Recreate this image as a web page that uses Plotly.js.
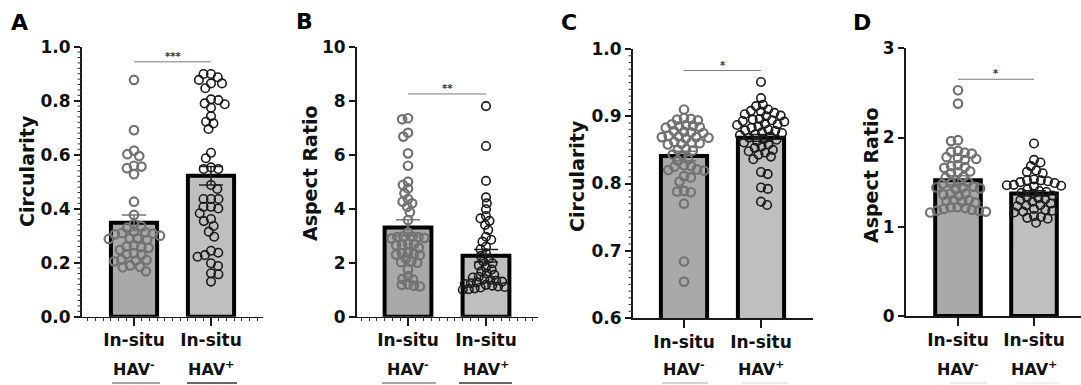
<!DOCTYPE html>
<html><head><meta charset="utf-8">
<script src="https://cdn.plot.ly/plotly-3.0.1.min.js"></script>
<style>html,body{margin:0;padding:0;background:#fff;overflow:hidden}#chart{width:1081px;height:385px}</style>
</head><body><div id="chart"></div>
<script>
// ---------- data ----------
const categories = ['In-situ', 'In-situ'];
const groupLabels = ['HAV<sup>-</sup>', 'HAV<sup>+</sup>'];
const panelLetters = ['A', 'B', 'C', 'D'];
const yTitles = ['Circularity', 'Aspect Ratio', 'Circularity', 'Aspect Ratio'];
const significance = ['***', '**', '*', '*'];
const sigLevel = [0.944, 8.25, 0.968, 2.653];

const circA_neg = [0.877, 0.691, 0.615, 0.602, 0.595, 0.559, 0.556, 0.550, 0.528, 0.426, 0.377, 0.343, 0.335, 0.330, 0.315, 0.312, 0.310, 0.308, 0.305, 0.300, 0.290, 0.290, 0.288, 0.285, 0.265, 0.260, 0.258, 0.255, 0.247, 0.235, 0.232, 0.230, 0.212, 0.210, 0.208, 0.205, 0.190, 0.185, 0.183, 0.168];
const circA_pos = [0.899, 0.899, 0.887, 0.877, 0.864, 0.864, 0.846, 0.805, 0.802, 0.790, 0.787, 0.774, 0.743, 0.722, 0.716, 0.695, 0.607, 0.587, 0.553, 0.547, 0.547, 0.488, 0.473, 0.436, 0.436, 0.436, 0.407, 0.407, 0.401, 0.383, 0.362, 0.354, 0.336, 0.315, 0.296, 0.244, 0.237, 0.228, 0.222, 0.198, 0.188, 0.161, 0.157, 0.130];
const meanA = [0.348, 0.522];
const semA = [0.029, 0.034];

const arB_neg = [7.35, 7.31, 6.81, 6.67, 6.05, 5.59, 5.00, 4.88, 4.75, 4.57, 4.36, 4.26, 4.20, 4.07, 3.87, 3.58, 3.12, 2.98, 2.97, 2.95, 2.95, 2.92, 2.90, 2.70, 2.68, 2.66, 2.65, 2.55, 2.36, 2.35, 2.33, 2.30, 2.28, 2.15, 2.05, 2.02, 2.00, 1.75, 1.50, 1.40, 1.38, 1.20, 1.18, 1.15, 1.12];
const arB_pos = [7.80, 6.32, 5.03, 4.42, 4.20, 3.98, 3.73, 3.64, 3.55, 3.40, 3.21, 2.96, 2.85, 2.78, 2.59, 2.50, 2.35, 2.25, 2.15, 2.05, 1.98, 1.90, 1.82, 1.75, 1.68, 1.60, 1.55, 1.48, 1.45, 1.40, 1.36, 1.33, 1.30, 1.27, 1.24, 1.21, 1.18, 1.15, 1.12, 1.10, 1.08, 1.05, 1.02, 1.00];
const meanB = [3.30, 2.26];
const semB = [0.29, 0.23];

const circC_neg = [0.910, 0.897, 0.896, 0.895, 0.894, 0.888, 0.887, 0.886, 0.885, 0.884, 0.883, 0.878, 0.877, 0.876, 0.875, 0.871, 0.870, 0.869, 0.869, 0.868, 0.867, 0.862, 0.861, 0.860, 0.859, 0.858, 0.851, 0.850, 0.849, 0.843, 0.842, 0.836, 0.834, 0.827, 0.826, 0.825, 0.821, 0.820, 0.819, 0.811, 0.809, 0.803, 0.789, 0.788, 0.787, 0.770, 0.684, 0.654];
const circC_pos = [0.951, 0.927, 0.917, 0.915, 0.910, 0.908, 0.907, 0.905, 0.903, 0.901, 0.900, 0.896, 0.895, 0.894, 0.893, 0.892, 0.889, 0.888, 0.887, 0.885, 0.883, 0.880, 0.879, 0.878, 0.876, 0.875, 0.873, 0.872, 0.870, 0.868, 0.866, 0.865, 0.863, 0.861, 0.858, 0.855, 0.853, 0.850, 0.848, 0.846, 0.843, 0.840, 0.836, 0.817, 0.814, 0.794, 0.792, 0.773, 0.768];
const meanC = [0.841, 0.868];
const semC = [0.007, 0.005];

const arD_neg = [2.53, 2.38, 1.97, 1.96, 1.85, 1.84, 1.83, 1.82, 1.78, 1.77, 1.76, 1.75, 1.69, 1.68, 1.67, 1.66, 1.62, 1.61, 1.60, 1.56, 1.55, 1.50, 1.50, 1.49, 1.48, 1.45, 1.44, 1.44, 1.43, 1.42, 1.37, 1.37, 1.36, 1.35, 1.30, 1.30, 1.29, 1.28, 1.27, 1.22, 1.22, 1.21, 1.20, 1.19, 1.18, 1.18, 1.17, 1.16];
const arD_pos = [1.933, 1.75, 1.72, 1.68, 1.63, 1.615, 1.60, 1.53, 1.52, 1.52, 1.51, 1.50, 1.49, 1.47, 1.465, 1.46, 1.45, 1.42, 1.40, 1.39, 1.38, 1.37, 1.35, 1.33, 1.32, 1.31, 1.30, 1.28, 1.26, 1.245, 1.24, 1.23, 1.20, 1.19, 1.18, 1.17, 1.16, 1.12, 1.11, 1.10, 1.09, 1.045];
const meanD = [1.522, 1.374];
const semD = [0.05, 0.03];

// ---------- layout config (pixel geometry, styles) ----------
const W = 1081, H = 385;
const panels = [
  {groups: [circA_neg, circA_pos], mean: meanA, sem: semA, x0: 82, x1: 263, c0: 134, c1: 211, yTop: 46.7, yBot: 316.7, yRange: [0, 1], dtick: 0.2, minorN: 10, fmt: '.1f', xMinor: true, swarmD: 7.5,
   letter: [19, 22], title: [27, 171], under: [[112, 160, '#8a8a8a'], [187, 237, '#333333']]},
  {groups: [arB_neg, arB_pos], mean: meanB, sem: semB, x0: 357, x1: 538, c0: 408, c1: 486, yTop: 46.7, yBot: 316.7, yRange: [0, 10], dtick: 2, minorN: 0, fmt: '', xMinor: true, swarmD: 6,
   letter: [304, 21], title: [310, 173], under: [[382, 436, '#8a8a8a'], [459, 512, '#333333']]},
  {groups: [circC_neg, circC_pos], mean: meanC, sem: semC, x0: 633, x1: 813, c0: 684, c1: 761, yTop: 49, yBot: 318, yRange: [0.6, 1.0], dtick: 0.1, minorN: 10, fmt: '.1f', xMinor: false, swarmD: 7,
   letter: [569, 22], title: [577, 176], under: [[662, 708, '#c8c8c8'], [742, 788, '#e2e2e2']]},
  {groups: [arD_neg, arD_pos], mean: meanD, sem: semD, x0: 906, x1: 1081, c0: 958, c1: 1034, yTop: 48.3, yBot: 316, yRange: [0, 3], dtick: 1, minorN: 0, fmt: '', xMinor: false, swarmD: 7,
   letter: [862, 22], title: [871, 175], under: [[950, 987, '#e2e2e2'], [1017, 1060, '#ececec']]}
];
const barFill = ['#a9a9a9', '#bfbfbf'];
const ptColor = ['#727272', '#1a1a1a'];
const ptWidth = [2.2, 1.6];
const errColor = ['#777777', '#222222'];
const axisColor = '#1a1a1a';
const FONT = 'DejaVu Sans, Arial, sans-serif';

function swarmOffsets(vals, pxPerVal, D) {
  const order = vals.map((v, i) => i).sort((a, b) => vals[b] - vals[a]);
  const placed = [];
  const out = new Array(vals.length).fill(0);
  let flip = false;
  for (const i of order) {
    const y = vals[i] * pxPerVal;
    const near = placed.filter(p => Math.abs(p.y - y) < D);
    const cands = [0];
    near.forEach(p => { const w = Math.sqrt(D * D - (p.y - y) ** 2); cands.push(p.x - w, p.x + w); });
    const f = flip;
    cands.sort((a, b) => (Math.abs(a) - Math.abs(b)) || (f ? a - b : b - a));
    let x = 0;
    for (const c of cands) {
      if (near.every(p => (p.x - c) ** 2 + (p.y - y) ** 2 >= D * D - 1e-6)) { x = c; break; }
    }
    placed.push({x, y});
    out[i] = x;
    flip = !flip;
  }
  return out;
}

const px = v => v / W;
const py = v => 1 - v / H;

const traces = [];
const layout = {
  width: W, height: H, margin: {l: 0, r: 0, t: 0, b: 0},
  paper_bgcolor: '#ffffff', plot_bgcolor: 'rgba(0,0,0,0)',
  showlegend: false, barmode: 'overlay',
  font: {family: FONT, color: '#111'},
  shapes: [], annotations: []
};

panels.forEach((p, k) => {
  const n = k + 1;
  const xa = 'x' + (n === 1 ? '' : n), ya = 'y' + (n === 1 ? '' : n);
  const s = p.c1 - p.c0;
  const xr = [-(p.c0 - p.x0) / s, 1 + (p.x1 - p.c1) / s];
  const plotH = p.yBot - p.yTop;
  const pxPerVal = plotH / (p.yRange[1] - p.yRange[0]);
  const pxPerUnit = (p.x1 - p.x0) / (xr[1] - xr[0]);

  const xax = {
    domain: [px(p.x0), px(p.x1)], anchor: ya, range: xr, fixedrange: true,
    tickmode: 'array', tickvals: [0, 1], ticktext: categories,
    ticks: 'outside', ticklen: 8, tickwidth: 1.5, tickcolor: axisColor,
    showline: true, linecolor: axisColor, linewidth: p.xMinor ? 1.2 : 1.6,
    showgrid: false, zeroline: false,
    tickfont: {family: FONT, size: 17, weight: 'bold', color: '#111'}
  };
  if (p.xMinor) {
    const mv = [];
    for (let t = Math.ceil(xr[0] * 10); t <= Math.floor(xr[1] * 10); t++) if (t % 10 !== 0) mv.push(t / 10);
    xax.minor = {tickmode: 'array', tickvals: mv, ticks: 'outside', ticklen: 3, tickwidth: 1, tickcolor: '#333', showgrid: false};
  }
  layout['xaxis' + (n === 1 ? '' : n)] = xax;

  layout['yaxis' + (n === 1 ? '' : n)] = {
    domain: [py(p.yBot), py(p.yTop)], anchor: xa, range: p.yRange, fixedrange: true,
    tickmode: 'linear', dtick: p.dtick, tick0: p.yRange[0], tickformat: p.fmt,
    ticks: 'outside', ticklen: 6, tickwidth: 2, tickcolor: axisColor,
    showline: true, linecolor: axisColor, linewidth: 2,
    showgrid: false, zeroline: false,
    tickfont: {family: FONT, size: 17, weight: 'bold', color: '#111'}
  };
  // minor y ticks drawn as short line shapes on the axis scale
  if (p.minorN) {
    const nMaj = Math.round((p.yRange[1] - p.yRange[0]) / p.dtick);
    for (let t = 1; t < nMaj * p.minorN; t++) {
      if (t % p.minorN === 0) continue;
      const v = p.yRange[0] + t * p.dtick / p.minorN;
      layout.shapes.push({type: 'line', xref: 'paper', yref: ya, x0: px(p.x0 - 4.5), x1: px(p.x0), y0: v, y1: v,
        line: {color: '#333', width: 1}});
    }
  }

  // bars with SEM
  [0, 1].forEach(g => {
    traces.push({
      type: 'bar', x: [g], y: [p.mean[g]], width: 0.6, xaxis: xa, yaxis: ya,
      marker: {color: barFill[g], line: {color: '#000', width: 4}},
      error_y: {type: 'data', array: [p.sem[g]], visible: true, color: errColor[g], thickness: 1.5, width: 12},
      hoverinfo: 'skip'
    });
  });
  // points (beeswarm computed from values)
  [0, 1].forEach(g => {
    const vals = p.groups[g];
    const offs = swarmOffsets(vals.map(v => v - p.yRange[0]), pxPerVal, p.swarmD);
    traces.push({
      type: 'scatter', mode: 'markers', xaxis: xa, yaxis: ya,
      x: offs.map(o => g + o / pxPerUnit), y: vals,
      marker: {symbol: 'circle-open', size: 8.5, color: ptColor[g], line: {width: ptWidth[g], color: ptColor[g]}},
      cliponaxis: false, hoverinfo: 'skip'
    });
  });

  // significance bar
  layout.shapes.push({type: 'line', xref: xa, yref: ya, x0: 0, x1: 1, y0: sigLevel[k], y1: sigLevel[k], line: {color: '#7a7a7a', width: 1}});
  layout.annotations.push({xref: xa, yref: ya, x: 0.5, y: sigLevel[k], text: significance[k], showarrow: false,
    yanchor: 'bottom', yshift: -2, font: {family: FONT, size: 10, color: '#333', weight: 'bold'}});

  // group labels (second line) and underlines
  [0, 1].forEach(g => {
    layout.annotations.push({xref: xa, yref: 'paper', x: g, y: py(368), text: groupLabels[g], showarrow: false,
      yanchor: 'middle', font: {family: FONT, size: 16, weight: 'bold', color: '#111'}});
    const u = p.under[g];
    layout.shapes.push({type: 'line', xref: 'paper', yref: 'paper', x0: px(u[0]), x1: px(u[1]), y0: py(383), y1: py(383), line: {color: u[2], width: 1.5}});
  });

  // panel letter
  layout.annotations.push({xref: 'paper', yref: 'paper', x: px(p.letter[0]), y: py(p.letter[1]), text: panelLetters[k],
    showarrow: false, xanchor: 'center', yanchor: 'middle', font: {family: FONT, size: 22, weight: 'bold', color: '#000'}});
  // y title
  layout.annotations.push({xref: 'paper', yref: 'paper', x: px(p.title[0]), y: py(p.title[1]), text: yTitles[k],
    showarrow: false, textangle: -90, xanchor: 'center', yanchor: 'middle', font: {family: FONT, size: 19, weight: 'bold', color: '#111'}});
});

Plotly.newPlot('chart', traces, layout, {staticPlot: true, displayModeBar: false});
</script>
</body></html>
